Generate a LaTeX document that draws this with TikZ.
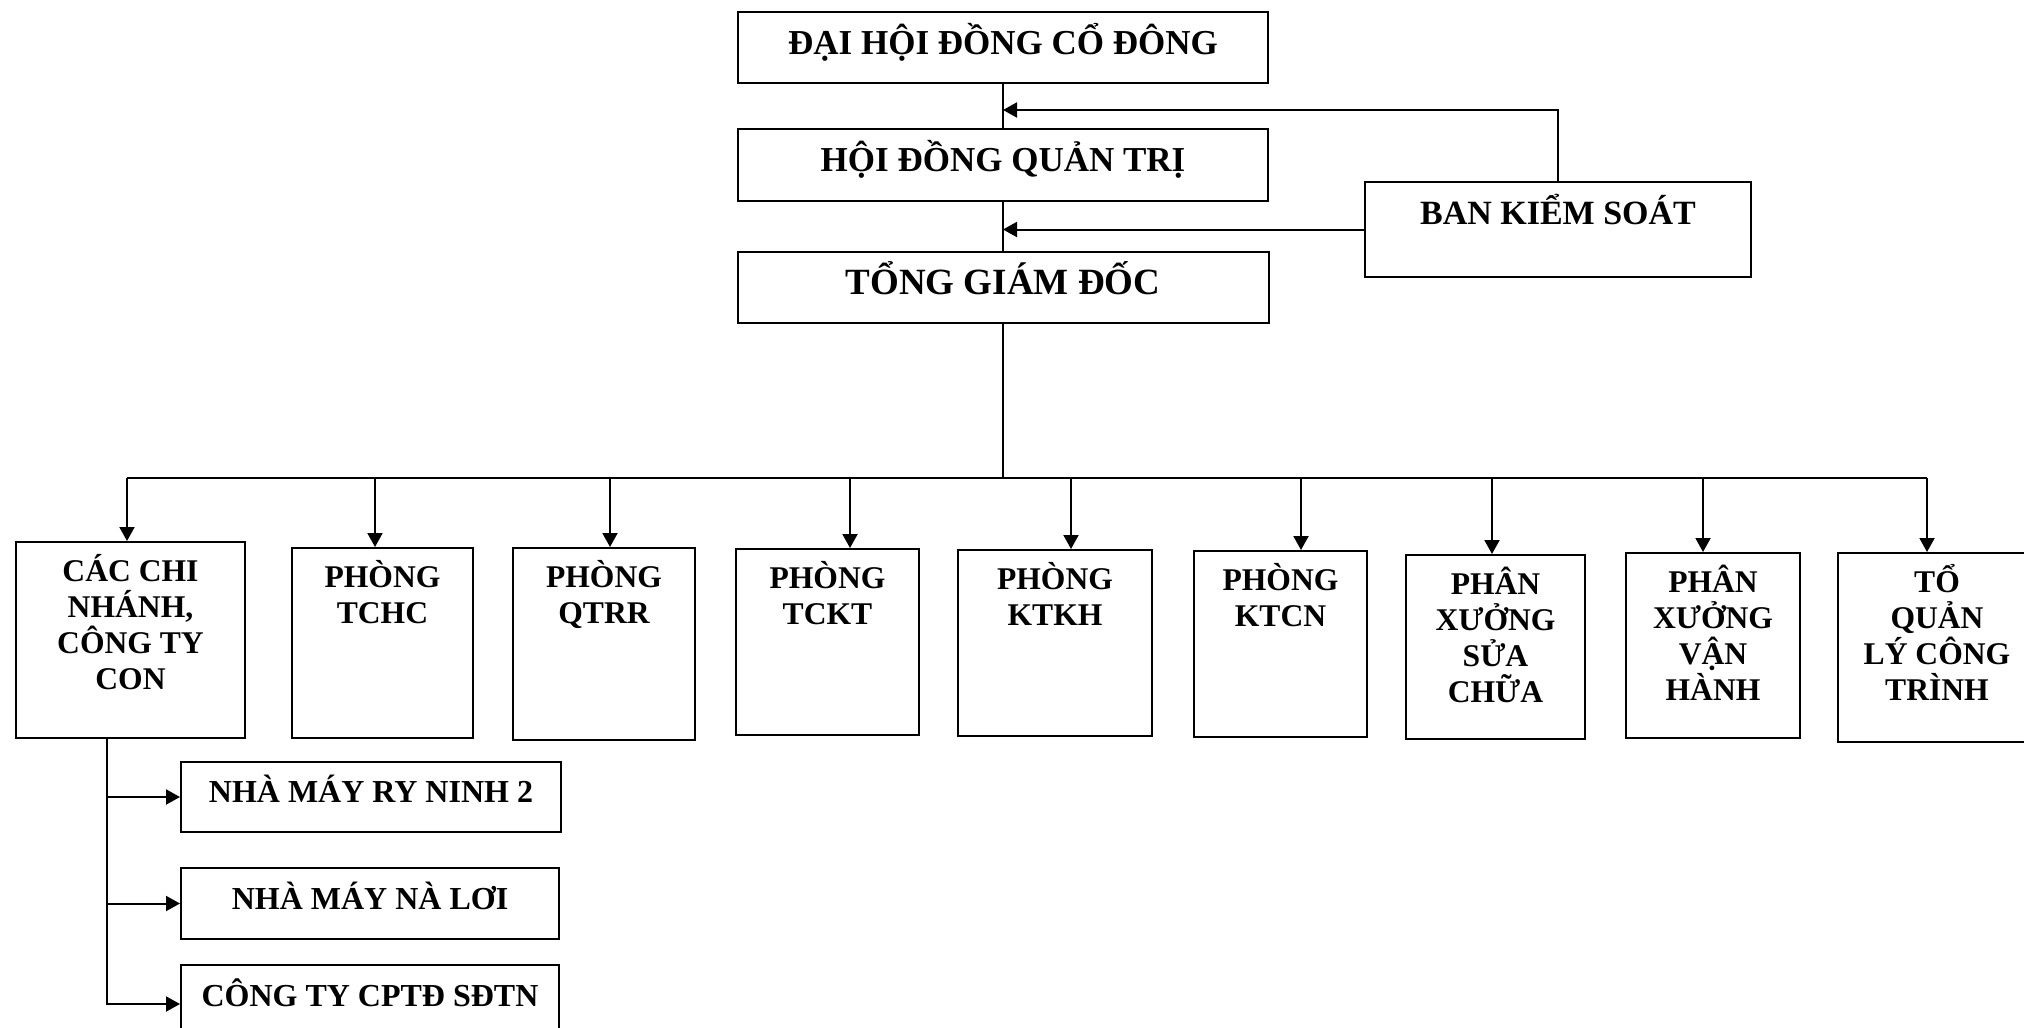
\documentclass[tikz,border=0pt]{standalone}
\usepackage{fontspec}
\setmainfont{Liberation Serif}
\usetikzlibrary{arrows.meta}
\newcommand{\tbx}[3]{\parbox[c][#1][t]{#2}{\centering\lineskiplimit=-100pt\rule{0pt}{19.5pt}#3}}
\begin{document}
\begin{tikzpicture}[x=0.5pt,y=-0.5pt,
  box/.style={draw, line width=1pt, inner sep=0pt, align=center},
  topf/.style={font=\fontsize{17.5}{20}\selectfont\bfseries},
  lowf/.style={font=\fontsize{15.8}{18}\selectfont\bfseries},
  subf/.style={font=\fontsize{16}{18}\selectfont\bfseries, text height=10.6pt, text depth=5pt},
  ln/.style={line width=1pt},
  arr/.style={line width=1pt, -{Triangle[length=7pt,width=7.5pt]}}]
\fill[white, use as bounding box] (0,0) rectangle (2024,1028);

% top chain
\node[box, topf, minimum width=265pt, minimum height=35.5pt, text height=11pt, text depth=4pt] (dh) at (1003,47.5) {ĐẠI HỘI ĐỒNG CỔ ĐÔNG};
\node[box, topf, minimum width=265pt, minimum height=36pt, text height=11pt, text depth=5pt] (hd) at (1003,165) {HỘI ĐỒNG QUẢN TRỊ};
\node[box, font=\fontsize{18.5}{20}\selectfont\bfseries, minimum width=265.5pt, minimum height=35.5pt, text height=11.5pt, text depth=5pt] (tg) at (1003,287.5) {TỔNG GIÁM ĐỐC};
\node[box, font=\fontsize{17}{20}\selectfont\bfseries, minimum width=193pt, minimum height=47.5pt, text height=11pt, text depth=16pt] (bk) at (1558,229.5) {BAN KIỂM SOÁT};

\draw[ln] (dh.south) -- (hd.north);
\draw[ln] (hd.south) -- (tg.north);
\coordinate (k1) at (1003,110);
\draw[arr] (bk.north) |- (k1);
\draw[arr] (bk.west) -- (bk.west -| dh.south);

% lower row
\node[box, lowf] (b1) at (130.5,640) {\tbx{98pt}{114.5pt}{CÁC CHI\\NHÁNH,\\CÔNG TY\\CON}};
\node[box, lowf] (b2) at (382.5,643) {\tbx{95pt}{90.5pt}{PHÒNG\\TCHC}};
\node[box, lowf] (b3) at (604,644) {\tbx{96pt}{91pt}{PHÒNG\\QTRR}};
\node[box, lowf] (b4) at (827.5,642) {\tbx{93pt}{91.5pt}{PHÒNG\\TCKT}};
\node[box, lowf] (b5) at (1055,643) {\tbx{93pt}{97pt}{PHÒNG\\KTKH}};
\node[box, lowf] (b6) at (1280.5,644) {\tbx{93pt}{86.5pt}{PHÒNG\\KTCN}};
\node[box, lowf] (b7) at (1495.5,647) {\tbx{92pt}{89.5pt}{PHÂN\\XƯỞNG\\SỬA\\CHỮA}};
\node[box, lowf] (b8) at (1713,645.5) {\tbx{92.5pt}{87pt}{PHÂN\\XƯỞNG\\VẬN\\HÀNH}};
\node[box, lowf] (b9) at (1937,647.5) {\tbx{94.5pt}{99pt}{TỔ\\QUẢN\\LÝ CÔNG\\TRÌNH}};

% bus
\coordinate (bl) at (127,478);
\coordinate (br) at (1927,478);
\draw[ln] (bl) -- (br);
\draw[ln] (tg.south) -- (tg.south |- bl);
\coordinate (j1) at (127,478);
\coordinate (j2) at (375,478);
\coordinate (j3) at (610,478);
\coordinate (j4) at (850,478);
\coordinate (j5) at (1071,478);
\coordinate (j6) at (1301,478);
\coordinate (j7) at (1492,478);
\coordinate (j8) at (1703,478);
\coordinate (j9) at (1927,478);
\foreach \i in {1,...,9}{\draw[arr] (j\i) -- (j\i |- b\i.north);}

% sub units
\node[box, subf, minimum width=190pt, minimum height=35pt] (s1) at (371,797) {NHÀ MÁY RY NINH 2};
\node[box, subf, minimum width=189pt, minimum height=35.5pt] (s2) at (370,903.5) {NHÀ MÁY NÀ LƠI};
\node[box, subf, minimum width=189pt, minimum height=35.5pt] (s3) at (370,1000.5) {CÔNG TY CPTĐ SĐTN};
\coordinate (sv) at ([xshift=-11.75pt]b1.south);
\draw[arr] (sv) |- (s1.west);
\draw[arr] (sv) |- (s2.west);
\draw[arr] (sv) |- ([yshift=-1.75pt]s3.west);
\end{tikzpicture}
\end{document}
